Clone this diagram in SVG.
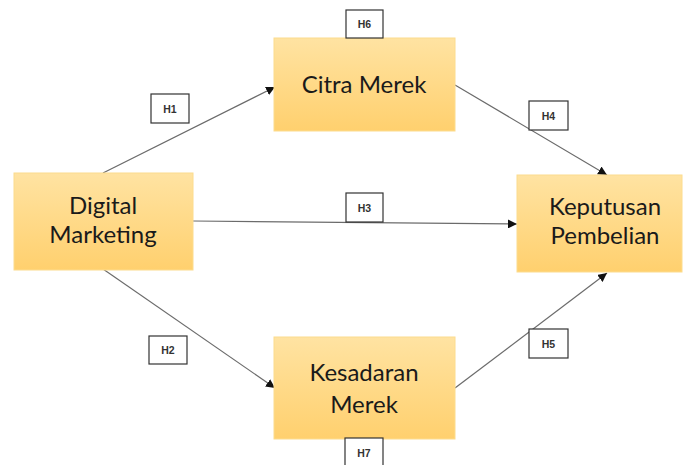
<svg xmlns="http://www.w3.org/2000/svg" width="683" height="465" viewBox="0 0 683 465">
<defs>
<linearGradient id="g" x1="0" y1="0" x2="0" y2="1">
<stop offset="0" stop-color="#FFE3A2"/>
<stop offset="1" stop-color="#FFD06E"/>
</linearGradient>
<marker id="ah" viewBox="0 0 10 10" refX="10" refY="5" markerWidth="9" markerHeight="9" markerUnits="userSpaceOnUse" orient="auto">
<path d="M0,0 L10,5 L0,10 Z" fill="#111"/>
</marker>
<style>
.node rect{fill:url(#g);stroke:#FCDC8E;stroke-width:1}
.node text{font-family:Lato,"Open Sans",sans-serif;font-size:24px;fill:#1a1a1a;text-anchor:middle}
.lbl rect{fill:#fff;stroke:#333;stroke-width:1.2}
.lbl text{font-family:"Liberation Sans",Arial,sans-serif;font-size:10.5px;font-weight:bold;fill:#333;text-anchor:middle}
.edges line{stroke:#6b6b6b;stroke-width:1.2;marker-end:url(#ah)}
</style>
</defs>
<rect width="683" height="465" fill="#fff"/>
<g class="edges" id="connectors">
<line x1="103" y1="173" x2="275" y2="87"/>
<line x1="193" y1="221" x2="517" y2="224"/>
<line x1="103" y1="269" x2="275" y2="388"/>
<line x1="455" y1="85" x2="607" y2="175"/>
<line x1="455" y1="388" x2="607" y2="273"/>
</g>
<g class="node" id="digital-marketing">
<rect x="14" y="173" width="179" height="97"/>
<text x="103" y="214">Digital</text>
<text x="103" y="243">Marketing</text>
</g>
<g class="node" id="citra-merek">
<rect x="274" y="38" width="181" height="93"/>
<text x="364" y="93">Citra Merek</text>
</g>
<g class="node" id="keputusan-pembelian">
<rect x="517" y="175" width="165" height="97"/>
<text x="605" y="215">Keputusan</text>
<text x="605" y="244">Pembelian</text>
</g>
<g class="node" id="kesadaran-merek">
<rect x="274" y="337" width="181" height="102"/>
<text x="364" y="381">Kesadaran</text>
<text x="364" y="413">Merek</text>
</g>
<g class="lbl" id="h1"><rect x="151" y="94" width="38" height="29"/><text x="170" y="112.5">H1</text></g>
<g class="lbl" id="h2"><rect x="149" y="336" width="38" height="28"/><text x="168" y="354">H2</text></g>
<g class="lbl" id="h3"><rect x="346" y="193" width="37" height="29"/><text x="364.5" y="211.5">H3</text></g>
<g class="lbl" id="h4"><rect x="529" y="101" width="39" height="29"/><text x="548.5" y="119.5">H4</text></g>
<g class="lbl" id="h5"><rect x="529" y="329" width="39" height="29"/><text x="548.5" y="347.5">H5</text></g>
<g class="lbl" id="h6"><rect x="346" y="10" width="37" height="28"/><text x="364.5" y="28">H6</text></g>
<g class="lbl" id="h7"><rect x="345" y="438" width="38" height="28"/><text x="364" y="457">H7</text></g>
</svg>
